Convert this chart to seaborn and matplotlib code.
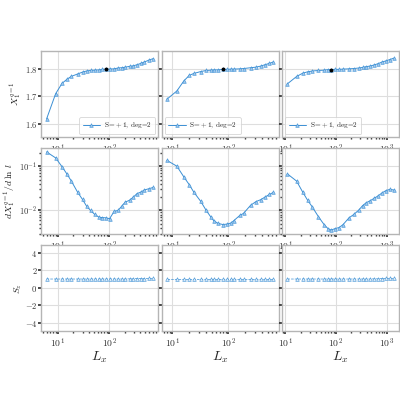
import numpy as np
import pandas as pd
import matplotlib
matplotlib.use("Agg")
import matplotlib.pyplot as plt
from matplotlib.ticker import FuncFormatter
import seaborn as sns

# ---------------- data ----------------
L1 = [6, 9, 12, 15, 18, 24, 30, 36, 43, 52, 63, 72, 85, 101, 124, 148, 174, 204, 247, 293, 346, 410, 481, 591, 705]
L2 = [8, 12, 16, 20, 24, 32, 40, 48, 55, 65, 79, 94, 111, 125, 159, 186, 247, 308, 376, 447, 537, 630]
L3 = [11, 16.7, 22, 27.5, 34, 45, 58, 69, 80, 97, 115, 138, 180, 224, 281, 333, 392, 467, 560, 677, 810, 960, 1150, 1370]

X1 = [1.618, 1.71, 1.748, 1.763, 1.773, 1.782, 1.789, 1.793, 1.795, 1.796, 1.797, 1.799, 1.80,
      1.80, 1.801, 1.804, 1.805, 1.807, 1.81, 1.812, 1.816, 1.821, 1.826, 1.833, 1.838]
X1_hi = [1.676, 1.767, 1.80, 1.815, 1.818, 1.821, 1.822, 1.821, 1.82, 1.818, 1.817, 1.816, 1.815,
         1.815, 1.815, 1.816, 1.816, 1.818, 1.819, 1.823, 1.828, 1.833, 1.838, 1.845, 1.852]
X1_lo = [1.566, 1.654, 1.694, 1.718, 1.733, 1.751, 1.761, 1.768, 1.776, 1.78, 1.785, 1.789, 1.791,
         1.793, 1.794, 1.795, 1.796, 1.80, 1.802, 1.806, 1.81, 1.813, 1.818, 1.823, 1.828]

X2 = [1.69, 1.72, 1.757, 1.777, 1.784, 1.791, 1.795, 1.796, 1.797, 1.797, 1.799, 1.799, 1.80,
      1.80, 1.801, 1.802, 1.805, 1.807, 1.811, 1.816, 1.821, 1.826]
X2_hi = [1.749, 1.80, 1.816, 1.82, 1.822, 1.822, 1.82, 1.818, 1.817, 1.816, 1.815, 1.815, 1.813,
         1.815, 1.815, 1.816, 1.817, 1.82, 1.822, 1.828, 1.833, 1.837]
X2_lo = [1.633, 1.694, 1.724, 1.74, 1.749, 1.761, 1.77, 1.776, 1.779, 1.784, 1.789, 1.791, 1.794,
         1.794, 1.795, 1.796, 1.799, 1.801, 1.804, 1.807, 1.812, 1.82]

X3 = [1.746, 1.773, 1.785, 1.79, 1.793, 1.795, 1.796, 1.798, 1.798, 1.799, 1.799, 1.80, 1.801,
      1.802, 1.804, 1.806, 1.809, 1.811, 1.815, 1.82, 1.826, 1.83, 1.835, 1.84]
X3_hi = [1.80, 1.82, 1.822, 1.822, 1.822, 1.82, 1.818, 1.816, 1.815, 1.813, 1.813, 1.813, 1.813,
         1.815, 1.815, 1.817, 1.818, 1.821, 1.824, 1.828, 1.834, 1.839, 1.844, 1.85]
X3_lo = [1.694, 1.733, 1.757, 1.763, 1.773, 1.779, 1.785, 1.788, 1.79, 1.791, 1.793, 1.794, 1.795,
         1.796, 1.798, 1.799, 1.801, 1.804, 1.807, 1.811, 1.816, 1.821, 1.826, 1.83]

D1 = [0.21, 0.154, 0.097, 0.066, 0.047, 0.026, 0.0177, 0.0125, 0.0100, 0.0081, 0.0070, 0.0069, 0.0068,
      0.0065, 0.0095, 0.0100, 0.0125, 0.0154, 0.0170, 0.0200, 0.0240, 0.0260, 0.0290, 0.0310, 0.0330]
D2 = [0.135, 0.10, 0.057, 0.038, 0.026, 0.016, 0.010, 0.0072, 0.0058, 0.0051, 0.0048, 0.0049, 0.0052,
      0.0059, 0.0077, 0.0086, 0.013, 0.0158, 0.0175, 0.020, 0.023, 0.0255]
D3 = [0.067, 0.046, 0.026, 0.017, 0.012, 0.0072, 0.0048, 0.0039, 0.0036, 0.0039, 0.0041, 0.0048, 0.0068,
      0.0081, 0.0102, 0.0128, 0.0149, 0.0165, 0.0187, 0.0214, 0.025, 0.028, 0.030, 0.029]

S1 = [1.0, 1.0, 1.0, 1.0, 1.0, 1.0, 1.0, 1.0, 1.0, 1.0, 1.0, 1.0, 1.0,
      1.0, 1.0, 1.0, 1.0, 1.0, 1.02, 1.02, 1.05, 1.05, 1.05, 1.07, 1.07]
S2 = [1.0, 1.0, 1.0, 1.0, 1.0, 1.0, 1.0, 1.0, 1.0, 1.0, 1.0, 1.0, 1.0,
      1.0, 1.0, 1.0, 1.0, 1.0, 1.0, 1.0, 1.0, 1.0]
S3 = [1.0, 1.0, 1.0, 1.0, 1.0, 1.0, 1.0, 1.0, 1.0, 1.0, 1.0, 1.0, 1.0,
      1.0, 1.0, 1.0, 1.0, 1.0, 1.02, 1.02, 1.05, 1.07, 1.07, 1.07]

black_idx = [12, 10, 8]
legend_label = r"$\mathrm{S\!=\!+1,\,deg\!=\!2}$"
legend_locs = ["lower right", "lower left", "lower left"]
ylabels = [r"$X_1^{q=1}$", r"$dX_1^{q=1}/d\,\ln\,l$", r"$S_z$"]
xlabel = r"$L_x$"
top_yticks = [1.6, 1.7, 1.8]
top_yticklabels = ["$1.6$", "$1.7$", "$1.8$"]
bot_yticks = [-4, -2, 0, 2, 4]
bot_yticklabels = ["$-4$", "$-2$", "$0$", "$2$", "$4$"]

cols = [
    (L1, X1, X1_hi, X1_lo, D1, S1),
    (L2, X2, X2_hi, X2_lo, D2, S2),
    (L3, X3, X3_hi, X3_lo, D3, S3),
]


def pow10_fmt(v, pos):
    if v <= 0:
        return ""
    e = np.log10(v)
    if abs(e - round(e)) > 1e-6:
        return ""
    return r"$10^{%d}$" % int(round(e))


# ---------------- style ----------------
sns.set_theme(style="whitegrid")
plt.rcParams.update({
    "font.family": ["DejaVu Serif"],
    "mathtext.fontset": "cm",
    "axes.edgecolor": "#b5b5b5",
    "axes.linewidth": 1.0,
    "grid.color": "#dedede",
    "grid.linewidth": 0.8,
    "xtick.labelsize": 7,
    "ytick.labelsize": 6.2,
    "xtick.bottom": True,
    "ytick.left": True,
    "xtick.major.size": 2.5,
    "ytick.major.size": 2.0,
    "xtick.minor.size": 1.5,
    "ytick.minor.size": 1.5,
    "xtick.color": "#333333",
    "ytick.color": "#333333",
    "xtick.major.pad": 1.5,
    "ytick.major.pad": 0.8,
})

BLUE = "#3b8fd4"
LEFT0 = 29 / 400
fig, axes = plt.subplots(3, 3, figsize=(4, 4), dpi=100, sharey="row")
fig.subplots_adjust(left=LEFT0, right=399/400, top=1-51/400, bottom=1-331/400,
                    wspace=0.03, hspace=0.13)

line_kw = dict(color=BLUE, marker="^", markersize=2.6, linewidth=0.7,
               markerfacecolor="#9cc6ec", markeredgecolor=BLUE, markeredgewidth=0.4,
               estimator=None, sort=False)

for j, (L, X, Xh, Xl, D, S) in enumerate(cols):
    ax = axes[0, j]
    sns.scatterplot(x=L, y=Xh, ax=ax, color="red", marker="P", s=4.5, linewidth=0, zorder=3)
    sns.scatterplot(x=L, y=Xl, ax=ax, color="red", marker="P", s=4.5, linewidth=0, zorder=3)
    sns.lineplot(x=L, y=X, ax=ax, label=legend_label, zorder=4, **line_kw)
    k = black_idx[j]
    ax.plot(L[k], X[k], marker="o", color="black", markersize=1.8, linestyle="none", zorder=5)
    leg = ax.legend(loc=legend_locs[j], fontsize=5.2, frameon=True, handlelength=2.4,
                    borderpad=0.5, handletextpad=0.5, borderaxespad=0.4)
    leg.get_frame().set_edgecolor("#cccccc")
    leg.get_frame().set_linewidth(0.6)

    ax = axes[1, j]
    sns.lineplot(x=L, y=D, ax=ax, **line_kw)
    ax.set_yscale("log")
    ax.yaxis.set_major_formatter(FuncFormatter(pow10_fmt))

    ax = axes[2, j]
    kw = dict(line_kw)
    kw.update(markerfacecolor="#dcebf8", linewidth=0.5, linestyle="--")
    sns.lineplot(x=L, y=S, ax=ax, **kw)
    ax.set_ylim(-4.9, 4.85)
    ax.set_yticks(bot_yticks)
    ax.set_xlabel(xlabel, fontsize=10, labelpad=0)

    for i in range(3):
        a = axes[i, j]
        a.set_xscale("log")
        a.xaxis.set_major_formatter(FuncFormatter(pow10_fmt))
        a.margins(x=0.05)
        a.tick_params(which="both", bottom=True, left=True)
        a.grid(True, which="major")
        a.grid(False, which="minor")
        if j == 0:
            a.set_ylabel(ylabels[i], fontsize=7)
        else:
            a.set_ylabel("")
        if i < 2:
            a.set_xlabel("")

axes[0, 0].set_yticks(top_yticks)
axes[0, 0].set_yticklabels(top_yticklabels)
axes[2, 0].set_yticklabels(bot_yticklabels)


def place_labels():
    fig.canvas.draw()
    r = fig.canvas.get_renderer()
    need = 0.0
    for i in range(3):
        a = axes[i, 0]
        lo, hi = sorted(a.get_ylim())
        x0s = [lab.get_window_extent(r).x0
               for t, lab in zip(a.get_yticks(), a.get_yticklabels())
               if lab.get_text() and lo <= t <= hi]
        bb = a.get_window_extent(r)
        xr = min(x0s) - 1.0
        a.yaxis.set_label_coords((xr - bb.x0) / bb.width, 0.5)
        w = a.yaxis.label.get_window_extent(r).width
        need = max(need, 1.5 + w - xr)
    return need


need = place_labels()
if need > 0:
    fig.subplots_adjust(left=LEFT0 + need / 400)
    place_labels()

fig.savefig("out.png", dpi=100)
